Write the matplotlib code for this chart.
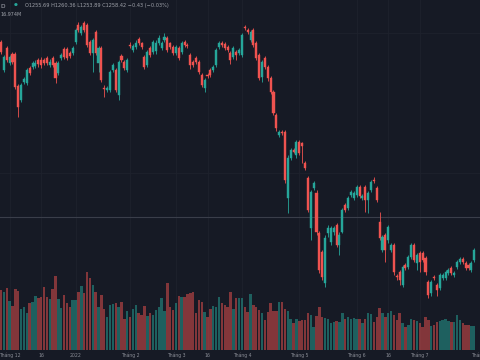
import matplotlib
matplotlib.use("Agg")
import matplotlib.pyplot as plt
import numpy as np

# Daily candles, Nov 2021 -> Jul 2022
opens = [1508, 1468, 1499, 1478, 1491, 1491, 1445, 1425, 1451, 1449,
         1471, 1472, 1474, 1482, 1482, 1482, 1485, 1475, 1485, 1478,
         1464, 1485, 1498, 1498, 1492, 1492, 1508, 1532, 1520, 1535,
         1532, 1508, 1492, 1522, 1478, 1499, 1442, 1439, 1439, 1468,
         1468, 1432, 1488, 1479, 1468, 1503, 1496, 1500, 1512, 1506,
         1486, 1475, 1499, 1493, 1495, 1506, 1499, 1510, 1513, 1506,
         1500, 1492, 1499, 1493, 1508, 1503, 1489, 1479, 1485, 1479,
         1461, 1442, 1461, 1468, 1468, 1475, 1500, 1506, 1505, 1500,
         1492, 1486, 1493, 1492, 1489, 1529, 1525, 1510, 1525, 1506,
         1489, 1458, 1485, 1472, 1456, 1437, 1404, 1375, 1380, 1380,
         1286, 1343, 1354, 1347, 1366, 1364, 1336, 1314, 1243, 1300,
         1293, 1236, 1209, 1165, 1236, 1224, 1238, 1248, 1219, 1238,
         1276, 1272, 1290, 1286, 1290, 1302, 1286, 1302, 1283, 1297,
         1312, 1300, 1252, 1212, 1234, 1226, 1212, 1219, 1175, 1181,
         1163, 1191, 1188, 1202, 1219, 1194, 1208, 1208, 1201, 1167,
         1151, 1174, 1163, 1158, 1172, 1172, 1180, 1187, 1177, 1188,
         1195, 1199, 1194, 1191, 1184, 1198]
highs = [1511, 1489, 1502, 1489, 1493, 1494, 1448, 1450, 1458, 1471,
         1474, 1481, 1482, 1485, 1486, 1485, 1488, 1483, 1488, 1481,
         1481, 1492, 1501, 1500, 1495, 1502, 1528, 1536, 1532, 1538,
         1535, 1511, 1513, 1525, 1502, 1502, 1446, 1445, 1468, 1478,
         1471, 1482, 1491, 1482, 1485, 1508, 1505, 1510, 1515, 1508,
         1489, 1496, 1502, 1511, 1510, 1517, 1509, 1520, 1516, 1508,
         1503, 1503, 1502, 1509, 1511, 1506, 1492, 1482, 1488, 1482,
         1464, 1457, 1464, 1471, 1475, 1499, 1509, 1509, 1508, 1503,
         1495, 1502, 1496, 1499, 1520, 1532, 1528, 1525, 1528, 1509,
         1492, 1482, 1488, 1475, 1459, 1440, 1407, 1383, 1383, 1383,
         1347, 1357, 1357, 1369, 1369, 1366, 1339, 1317, 1298, 1310,
         1297, 1239, 1212, 1233, 1248, 1246, 1246, 1251, 1238, 1272,
         1279, 1289, 1298, 1296, 1305, 1305, 1292, 1305, 1296, 1312,
         1316, 1303, 1266, 1234, 1237, 1248, 1222, 1222, 1178, 1184,
         1191, 1194, 1205, 1222, 1222, 1208, 1211, 1211, 1204, 1170,
         1170, 1177, 1166, 1180, 1180, 1184, 1187, 1190, 1183, 1198,
         1202, 1202, 1197, 1194, 1197, 1215]
lows = [1490, 1465, 1479, 1475, 1476, 1441, 1401, 1422, 1448, 1447,
        1461, 1469, 1470, 1472, 1471, 1475, 1475, 1472, 1472, 1449,
        1461, 1482, 1483, 1482, 1485, 1489, 1505, 1522, 1517, 1522,
        1500, 1489, 1465, 1489, 1465, 1451, 1429, 1436, 1437, 1465,
        1437, 1425, 1479, 1468, 1465, 1499, 1493, 1498, 1503, 1498,
        1469, 1472, 1486, 1491, 1491, 1503, 1496, 1508, 1493, 1498,
        1489, 1489, 1482, 1491, 1500, 1499, 1469, 1472, 1476, 1462,
        1444, 1437, 1456, 1458, 1465, 1472, 1498, 1500, 1496, 1493,
        1476, 1483, 1482, 1489, 1486, 1525, 1519, 1508, 1500, 1482,
        1453, 1451, 1469, 1452, 1434, 1404, 1381, 1373, 1375, 1307,
        1265, 1340, 1350, 1343, 1347, 1336, 1326, 1266, 1226, 1297,
        1234, 1180, 1170, 1160, 1231, 1219, 1234, 1216, 1205, 1236,
        1266, 1269, 1287, 1283, 1287, 1286, 1283, 1266, 1265, 1294,
        1307, 1280, 1226, 1209, 1195, 1222, 1209, 1177, 1170, 1163,
        1160, 1184, 1185, 1199, 1195, 1184, 1181, 1195, 1177, 1144,
        1147, 1170, 1147, 1155, 1170, 1170, 1177, 1177, 1174, 1185,
        1192, 1192, 1184, 1184, 1181, 1195]
closes = [1493, 1486, 1482, 1486, 1479, 1444, 1415, 1447, 1455, 1468,
          1464, 1478, 1478, 1476, 1475, 1478, 1478, 1479, 1475, 1456,
          1478, 1489, 1486, 1485, 1488, 1499, 1525, 1525, 1529, 1525,
          1503, 1492, 1510, 1492, 1499, 1454, 1441, 1442, 1465, 1475,
          1439, 1479, 1482, 1471, 1482, 1502, 1502, 1506, 1506, 1500,
          1472, 1493, 1489, 1508, 1506, 1513, 1506, 1515, 1496, 1500,
          1492, 1500, 1485, 1506, 1503, 1502, 1475, 1475, 1479, 1465,
          1447, 1454, 1459, 1461, 1472, 1496, 1506, 1503, 1499, 1496,
          1482, 1499, 1489, 1496, 1518, 1527, 1522, 1522, 1503, 1485,
          1456, 1479, 1472, 1456, 1437, 1407, 1385, 1380, 1378, 1312,
          1343, 1354, 1352, 1366, 1350, 1360, 1329, 1269, 1295, 1307,
          1238, 1184, 1174, 1229, 1243, 1243, 1243, 1219, 1234, 1269,
          1269, 1286, 1295, 1293, 1302, 1289, 1289, 1283, 1293, 1309,
          1310, 1283, 1229, 1231, 1212, 1245, 1219, 1181, 1174, 1170,
          1188, 1187, 1202, 1219, 1198, 1205, 1195, 1198, 1181, 1148,
          1167, 1172, 1155, 1177, 1177, 1181, 1184, 1180, 1180, 1195,
          1199, 1195, 1187, 1187, 1194, 1212]
# volume, x10M shares
volume = [60, 58, 62, 49, 44, 61, 59, 41, 43, 37,
          47, 48, 54, 52, 53, 63, 53, 51, 61, 74,
          51, 42, 55, 47, 43, 50, 50, 58, 64, 57,
          78, 72, 65, 58, 43, 55, 41, 33, 45, 46,
          47, 43, 48, 31, 39, 33, 41, 45, 37, 35,
          44, 34, 37, 35, 40, 43, 52, 39, 67, 43,
          40, 47, 54, 53, 53, 56, 57, 58, 37, 50,
          48, 38, 33, 41, 44, 43, 53, 47, 45, 43,
          58, 41, 52, 52, 52, 43, 38, 56, 45, 43,
          40, 37, 30, 38, 47, 39, 39, 48, 48, 41,
          39, 31, 27, 31, 29, 30, 30, 37, 35, 23,
          34, 43, 33, 32, 31, 27, 28, 29, 28, 37,
          31, 33, 31, 32, 31, 31, 27, 31, 37, 36,
          28, 33, 42, 37, 33, 37, 39, 35, 30, 37,
          27, 23, 25, 31, 30, 29, 27, 23, 33, 30,
          24, 25, 28, 29, 30, 31, 29, 28, 28, 35,
          30, 27, 25, 25, 24, 24]

tick_pos = [3, 14, 26, 45, 61, 72, 84, 104, 124, 135, 146, 167]
tick_labels = ["Tháng 12", "16", "2022", "Tháng 2", "Tháng 3", "16",
               "Tháng 4", "Tháng 5", "Tháng 6", "16", "Tháng 7", "Tháng 8"]
last_close = 1258.42

BG = "#161a25"
UP = "#26a69a"
DOWN = "#ef5350"

o = np.array(opens)
c = np.array(closes)
idx = np.arange(len(o))
up = c >= o
colors = np.where(up, UP, DOWN)

fig = plt.figure(figsize=(4.8, 3.6), dpi=100, facecolor=BG)
rect = [0, 10 / 360, 1, 350 / 360]
ax = fig.add_axes(rect)
ax.set_facecolor(BG)

# volume pane behind the candles
axv = fig.add_axes(rect, sharex=ax)
axv.patch.set_visible(False)
axv.bar(idx, volume, width=0.85, color=colors, alpha=0.5, linewidth=0)
axv.set_ylim(0, 350)
axv.axis("off")

for xt in tick_pos:
    ax.axvline(xt, color="#1e222d", lw=0.6, zorder=0)
for yg in [1520, 1321]:
    ax.axhline(yg, color="#1e222d", lw=0.6, zorder=0)
ax.axhline(last_close, color="#3a3e4a", lw=0.8, zorder=1)

ax.vlines(idx, lows, highs, colors=colors, lw=0.6, zorder=2)
ax.bar(idx, c - o, bottom=o, width=0.72, color=colors, edgecolor=colors,
       linewidth=0.3, zorder=3)

ax.set_xlim(-0.35, 165.2)
ax.set_ylim(1070.2, 1567.2)
ax.set_xticks(tick_pos)
ax.set_xticklabels(tick_labels)
ax.tick_params(axis="x", length=0, pad=2.0, labelsize=3.3, colors="#8a8d96")
ax.tick_params(axis="y", left=False, labelleft=False)
for s in ax.spines.values():
    s.set_visible(False)

fig.text(0.0, 1 - 6 / 360, "D", color="#b2b5be", fontsize=4.2, va="center")
fig.text(14 / 480, 1 - 5 / 360, "\u25cf", color=UP, fontsize=3.2, va="center")
fig.text(25 / 480, 1 - 6 / 360,
         "O1255.69 H1260.36 L1253.89 C1258.42 \u22120.43 (\u22120.03%)",
         color="#a0a3ab", fontsize=3.6, va="center")
fig.text(0.0, 1 - 15 / 360, "16.974M", color="#a0a3ab", fontsize=3.5, va="center")

fig.savefig("out.png", dpi=100, facecolor=BG)
